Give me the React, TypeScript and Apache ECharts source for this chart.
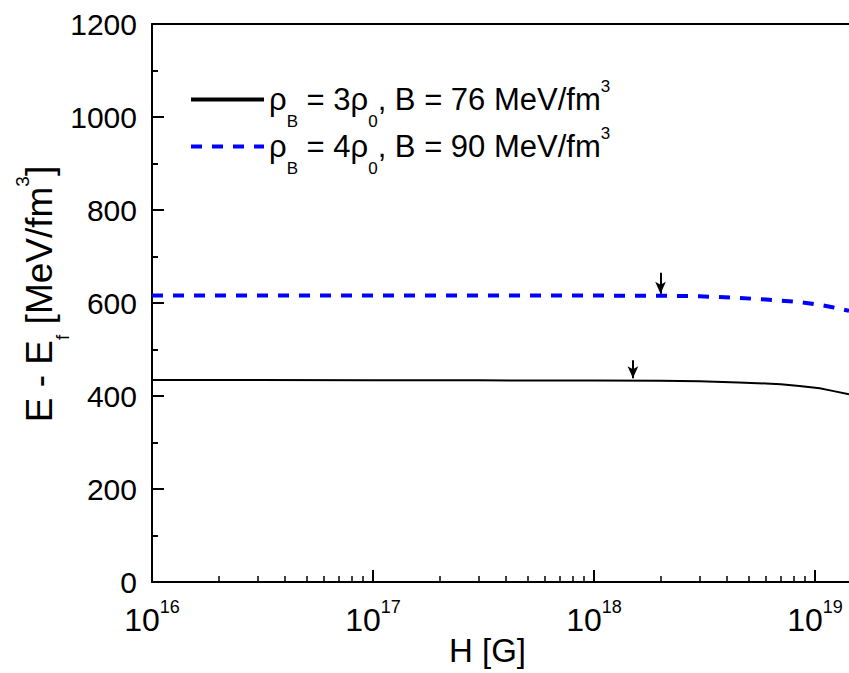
import React, { useEffect, useRef } from "react";
import * as echarts from "echarts";

// Magnetic field H [G]
const H = [1e16, 3e16, 1e17, 3e17, 1e18, 2e18, 3e18, 4.5e18, 6e18, 7e18, 8.5e18, 1.05e19, 1.2e19, 1.425e19];
// E - E_f [MeV/fm^3]
const E_rho3 = [434.5, 434.3, 434, 433.7, 433.3, 432.8, 431.8, 429, 427, 425.5, 421.5, 416.5, 411, 403.5];
const E_rho4 = [616, 616, 616, 616, 616, 615.5, 614.5, 611, 607.5, 605, 602, 596, 591, 583];

const seriesNames = ["ρB = 3ρ0, B = 76 MeV/fm3", "ρB = 4ρ0, B = 90 MeV/fm3"];
const legendRich = [
  "{t|ρ}{sub|B}{t| = 3ρ}{sub|0}{t|, B = 76 MeV/fm}{sup|3}",
  "{t|ρ}{sub|B}{t| = 4ρ}{sub|0}{t|, B = 90 MeV/fm}{sup|3}",
];

const majorTicksX = [1e16, 1e17, 1e18, 1e19];
const majorTickLabelsX = ["16", "17", "18", "19"];
const minorTicksX = [
  2e16, 3e16, 4e16, 5e16, 6e16, 7e16, 8e16, 9e16,
  2e17, 3e17, 4e17, 5e17, 6e17, 7e17, 8e17, 9e17,
  2e18, 3e18, 4e18, 5e18, 6e18, 7e18, 8e18, 9e18,
];

// arrows: [H, from, to]
const arrowRho3 = [1.5e18, 477, 438];
const arrowRho4 = [2e18, 665, 620];

const X_MIN = 1e16;
const X_MAX = 1.425e19;
const FONT = "Liberation Sans, Arial, Helvetica, sans-serif";

export default function App() {
  const ref = useRef<HTMLDivElement>(null);
  useEffect(() => {
    if (!ref.current) return;
    const chart = echarts.init(ref.current, undefined, { renderer: "svg" });
    const richText = {
      t: { fontSize: 31, fontFamily: FONT, color: "#000" },
      sub: { fontSize: 17, fontFamily: FONT, color: "#000", padding: [44, 0, 0, 0] },
      sup: { fontSize: 17, fontFamily: FONT, color: "#000", padding: [0, 0, 26, 0] },
    };
    const arrowLine = (a: number[], color: string) => ({
      silent: true,
      symbol: ["none", "arrow"],
      symbolSize: [8, 12],
      label: { show: false },
      lineStyle: { color, width: 2, type: "solid" },
      data: [[{ coord: [a[0], a[1]] }, { coord: [a[0], a[2]] }]],
    });
    chart.setOption({
      animation: false,
      backgroundColor: "#fff",
      grid: { left: 152, top: 24, right: 0, bottom: 673 - 582, containLabel: false, outerBoundsMode: "none" },
      legend: [0, 1].map((i) => ({
        data: [seriesNames[i]],
        orient: "vertical",
        left: 189,
        top: i === 0 ? 78 : 125,
        padding: 0,
        itemWidth: 73,
        itemHeight: 14,
        selectedMode: false,
        lineStyle: { width: 4 },
        itemStyle: { opacity: 0 },
        formatter: () => legendRich[i],
        textStyle: { rich: richText },
      })),
      xAxis: [
        {
          type: "log",
          logBase: 10,
          min: X_MIN,
          max: X_MAX,
          position: "bottom",
          name: "H [G]",
          nameLocation: "middle",
          nameGap: 52,
          nameMoveOverlap: false,
          nameTextStyle: { fontSize: 33, fontFamily: FONT, color: "#000", lineHeight: 33, padding: [0, 26, 0, 0] },
          axisLine: { show: true, lineStyle: { color: "#000", width: 2 } },
          axisTick: { show: true, inside: true, length: 12, lineStyle: { color: "#000", width: 2 }, customValues: majorTicksX },
          axisLabel: {
            show: true,
            margin: 16,
            customValues: majorTicksX,
            formatter: (v: number) => {
              const idx = majorTicksX.findIndex((m) => Math.abs(m - v) / m < 1e-6);
              return idx >= 0 ? `{b|10}{s|${majorTickLabelsX[idx]}}` : "";
            },
            rich: {
              b: { fontSize: 32, fontFamily: FONT, color: "#000" },
              s: { fontSize: 18, fontFamily: FONT, color: "#000", padding: [0, 0, 26, 0] },
            },
          },
          splitLine: { show: false },
          minorTick: { show: false },
        },
        {
          type: "log",
          logBase: 10,
          min: X_MIN,
          max: X_MAX,
          position: "bottom",
          axisLine: { show: false },
          axisTick: { show: true, inside: true, length: 6, lineStyle: { color: "#000", width: 1.5 }, customValues: minorTicksX },
          axisLabel: { show: false },
          splitLine: { show: false },
        },
        {
          type: "log",
          logBase: 10,
          min: X_MIN,
          max: X_MAX,
          position: "top",
          axisLine: { show: true, lineStyle: { color: "#000", width: 2 } },
          axisTick: { show: false },
          axisLabel: { show: false },
          splitLine: { show: false },
        },
      ],
      yAxis: {
        type: "value",
        min: 0,
        max: 1200,
        interval: 200,
        name: "{t|E - E}{sub|f}{t| [MeV/fm}{sup|3}{t|]}",
        nameLocation: "middle",
        nameRotate: 90,
        nameGap: 80,
        nameMoveOverlap: false,
        nameTextStyle: {
          padding: [0, 0, 0, 18],
          rich: {
            t: { fontSize: 37, fontFamily: FONT, color: "#000" },
            sub: { fontSize: 19, fontFamily: FONT, color: "#000", padding: [46, 0, 0, 0] },
            sup: { fontSize: 19, fontFamily: FONT, color: "#000", padding: [0, 0, 34, 0] },
          },
        },
        axisLine: { show: true, lineStyle: { color: "#000", width: 2 } },
        axisTick: { show: true, inside: true, length: 12, lineStyle: { color: "#000", width: 2 } },
        minorTick: { show: true, splitNumber: 2, length: 6, lineStyle: { color: "#000", width: 2 } },
        axisLabel: { fontSize: 30, fontFamily: FONT, color: "#000", margin: 15, formatter: (v: number) => String(v) },
        splitLine: { show: false },
        minorSplitLine: { show: false },
      },
      series: [
        {
          name: seriesNames[0],
          type: "line",
          xAxisIndex: 0,
          data: H.map((h, i) => [h, E_rho3[i]]),
          showSymbol: false,
          symbol: "none",
          lineStyle: { color: "#000", width: 2, type: "solid" },
          itemStyle: { color: "#000" },
          markLine: arrowLine(arrowRho3, "#000"),
        },
        {
          name: seriesNames[1],
          type: "line",
          xAxisIndex: 0,
          data: H.map((h, i) => [h, E_rho4[i]]),
          showSymbol: false,
          symbol: "none",
          lineStyle: { color: "#0000ff", width: 4, type: [11, 10] },
          itemStyle: { color: "#0000ff" },
          markLine: arrowLine(arrowRho4, "#000"),
        },
      ],
    });
    return () => chart.dispose();
  }, []);
  return (
    <div
      ref={ref}
      style={{ position: "fixed", left: 0, top: 0, width: 849, height: 673, background: "#fff" }}
    />
  );
}
